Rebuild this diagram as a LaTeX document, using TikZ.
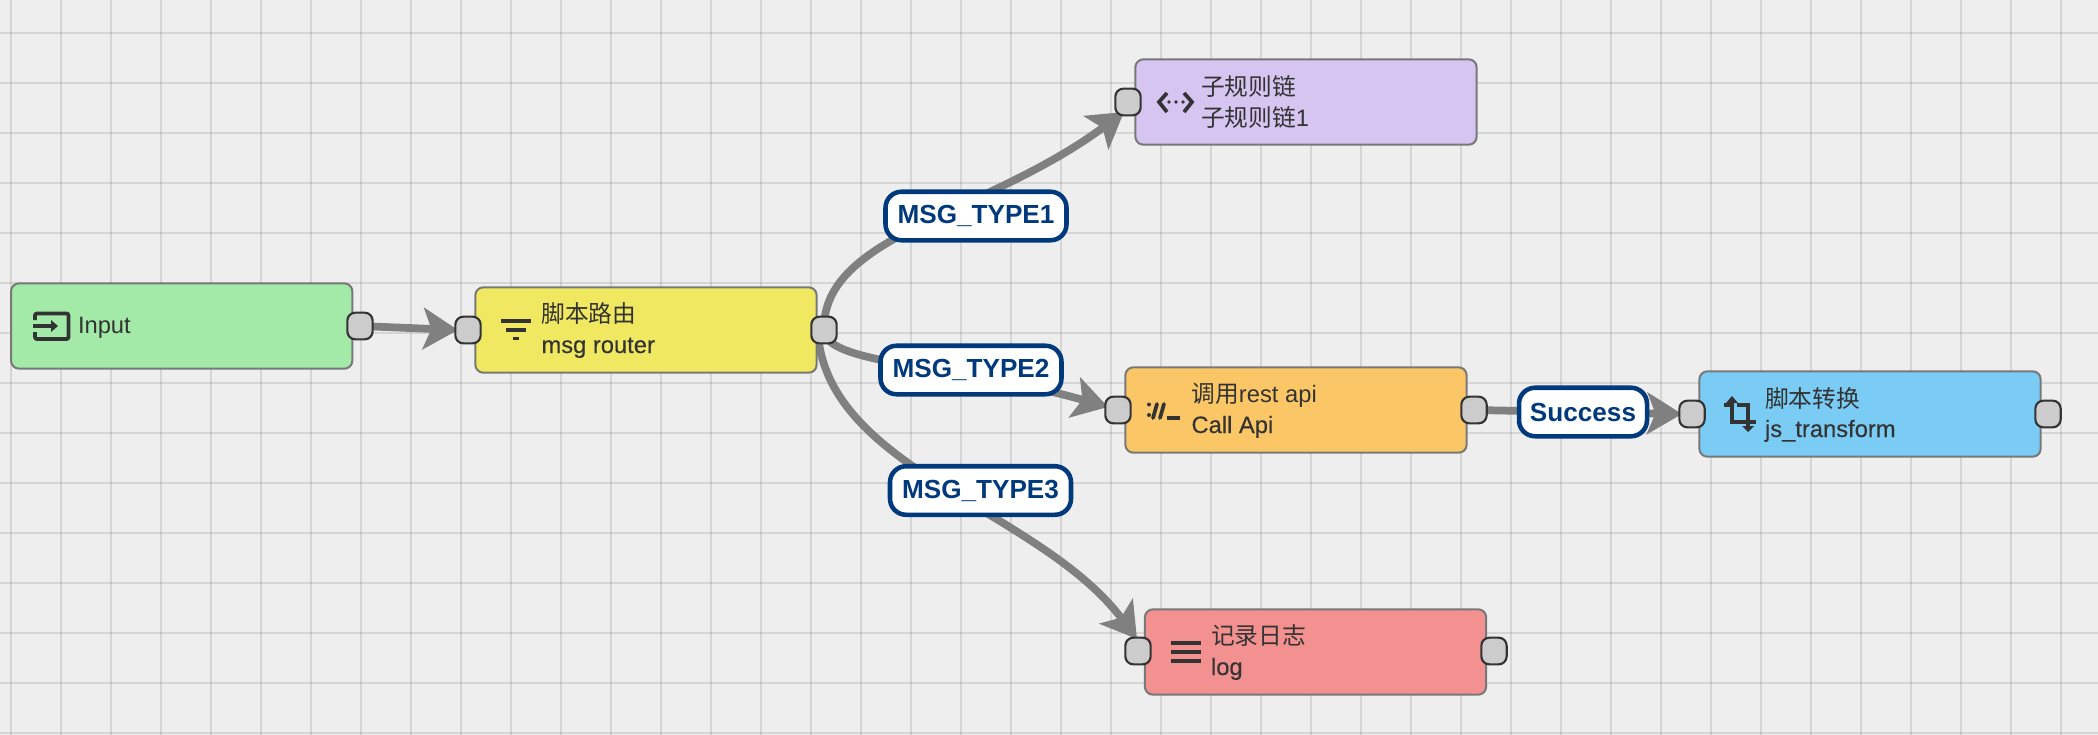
\documentclass[tikz,border=0pt]{standalone}
\usepackage{fontspec}
\setmainfont{Liberation Sans}
\newfontfamily\cjk{Noto Sans CJK SC}
\newfontfamily\med[FakeBold=0.25]{Liberation Sans}
\usetikzlibrary{arrows.meta,calc}
\pgfdeclarelayer{grid}
\pgfdeclarelayer{wires}
\pgfsetlayers{grid,wires,main}
\definecolor{bgc}{HTML}{EEEEEE}
\definecolor{edgec}{HTML}{808080}
\definecolor{ink}{HTML}{333333}
\definecolor{navy}{HTML}{003A7C}
\definecolor{cgreen}{HTML}{A3EAA9}
\definecolor{cyellow}{HTML}{F1E861}
\definecolor{cpurple}{HTML}{D6C4F1}
\definecolor{corange}{HTML}{FBC766}
\definecolor{cblue}{HTML}{7ACCF5}
\definecolor{cred}{HTML}{F39190}
\tikzset{
  x=0.75pt,y=-0.75pt,
  box/.style={draw=black!53,line width=1.5pt,rounded corners=6pt,minimum width=256pt,minimum height=64pt,inner sep=0pt,outer sep=0pt},
  port/.style={draw=ink,fill=black!20,line width=1.6pt,rounded corners=6pt,minimum width=19pt,minimum height=20pt,inner sep=0pt,outer sep=0pt},
  tag/.style={draw=navy,fill=white,line width=3.4pt,rounded corners=12pt,minimum width=135.75pt,minimum height=36.4pt,inner sep=0pt,outer sep=0pt,text=navy,font=\fontsize{19.6pt}{22pt}\selectfont\bfseries},
  wire/.style={draw=edgec,line width=5.8pt,-{Stealth[length=26pt,width=31pt,inset=6pt]}},
  txt/.style={anchor=base west,inner sep=0pt,outer sep=0pt,text=ink,font=\fontsize{17.8pt}{20pt}\selectfont},
  ico/.style={draw=ink,line width=2.8pt},
}
\begin{document}
\begin{tikzpicture}
\path[use as bounding box] (0,0) rectangle (2098,735);
\begin{pgfonlayer}{grid}
\fill[bgc] (0,0) rectangle (2098,735);
\foreach \gx in {0,...,41} \draw[black,opacity=.10,line width=1.5pt] (11+50*\gx,0) -- (11+50*\gx,735);
\foreach \gy in {0,...,14} \draw[black,opacity=.10,line width=1.5pt] (0,33+50*\gy) -- (2098,33+50*\gy);
\end{pgfonlayer}

% boxes
\node[box,fill=cgreen]  (input) at (181.7,326) {};
\node[box,fill=cyellow] (router) at (646,330) {};
\node[box,fill=cpurple] (sub) at (1306,102) {};
\node[box,fill=corange] (call) at (1296,410) {};
\node[box,fill=cblue]   (trans) at (1870,414) {};
\node[box,fill=cred]    (logn) at (1315.5,652) {};

% ports
\node[port] (pinputo) at (360,326) {};
\node[port] (prouteri) at (468,330) {};
\node[port] (proutero) at (824,330) {};
\node[port] (psubi) at (1128,102) {};
\node[port] (pcalli) at (1118,410) {};
\node[port] (pcallo) at (1474,410) {};
\node[port] (ptransi) at (1692,414) {};
\node[port] (ptranso) at (2048,414) {};
\node[port] (plogi) at (1138,651) {};
\node[port] (plogo) at (1494,651) {};

% connector labels
\node[tag] (t1) at (976,216) {MSG\_TYPE1};
\node[tag] (t2) at (971,370) {MSG\_TYPE2};
\node[tag] (t3) at (980.5,490.5) {MSG\_TYPE3};
\node[tag,minimum width=96pt] (t4) at (1583,412) {Success};

% connectors
\begin{pgfonlayer}{wires}
\draw[wire] (pinputo.center) -- ($(prouteri.center)+(-10,0)$);
\draw[wire] (proutero.center) .. controls (822,235) and (985,215) .. ($(psubi.center)+(-4,10)$);
\draw[wire] (proutero.center) .. controls (824,365) and (960,365) .. ($(pcalli.center)+(-10,-3)$);
\draw[wire] ($(proutero.center)+(-6,5)$) .. controls (830,470) and (1040,510) .. ($(plogi.center)+(-1,-12)$);
\draw[wire] (pcallo.center) -- ($(ptransi.center)+(-10,0)$);
\end{pgfonlayer}

% node texts
\node[txt] (l1) at (78,333) {Input};
\node[txt] (l2a) at (541.5,322) {\cjk 脚本路由};
\node[txt] (l2b) at (541.5,353) {\med msg router};
\node[txt] (l3a) at (1201,95) {\cjk 子规则链};
\node[txt] (l3b) at (1201,127) {\cjk 子规则链\rmfamily 1};
\node[txt] (l4a) at (1191.5,402) {{\cjk 调用}rest api};
\node[txt] (l4b) at (1191.5,433) {\med Call Api};
\node[txt] (l5a) at (1765,407) {\cjk 脚本转换};
\node[txt] (l5b) at (1765,437) {\med js\_transform};
\node[txt] (l6a) at (1211,644) {\cjk 记录日志};
\node[txt] (l6b) at (1211,675) {\med log};

% icons
\draw[ico,rounded corners=1.5pt] (35,320) -- (35,313.5) -- (68.5,313.5) -- (68.5,339) -- (35,339) -- (35,332);
\draw[ico] (33,326) -- (52,326);
\fill[ink] (51,320) -- (58,326) -- (51,332) -- cycle;

\draw[ico] (501,321) -- (531,321) (506,330) -- (526,330) (513,338.5) -- (519,338.5);

\draw[ico,line join=miter] (1167,93) -- (1159,102) -- (1167,112);
\draw[ico,line join=miter] (1184,93) -- (1192,102) -- (1184,112);
\fill[ink] (1169,102) circle (1.8) (1176,102) circle (1.8) (1183,102) circle (1.8);

\fill[ink] (1149,404.5) circle (2) (1149,415) circle (2);
\draw[ico,line cap=round] (1157,404) -- (1153,418) (1164,404) -- (1160,418);
\draw[ico] (1167,418) -- (1180,418);

\draw[ico] (1724,405) -- (1732,405);
\draw[ico] (1732,401) -- (1732,422) -- (1756,422);
\draw[ico] (1737,405) -- (1748,405) -- (1748,428);
\fill[ink] (1732,396) -- (1738,403) -- (1726,403) -- cycle;
\fill[ink] (1748,432) -- (1742,426) -- (1754,426) -- cycle;

\draw[ico] (1171,643) -- (1201,643) (1171,652) -- (1201,652) (1171,661) -- (1201,661);
\end{tikzpicture}
\end{document}
